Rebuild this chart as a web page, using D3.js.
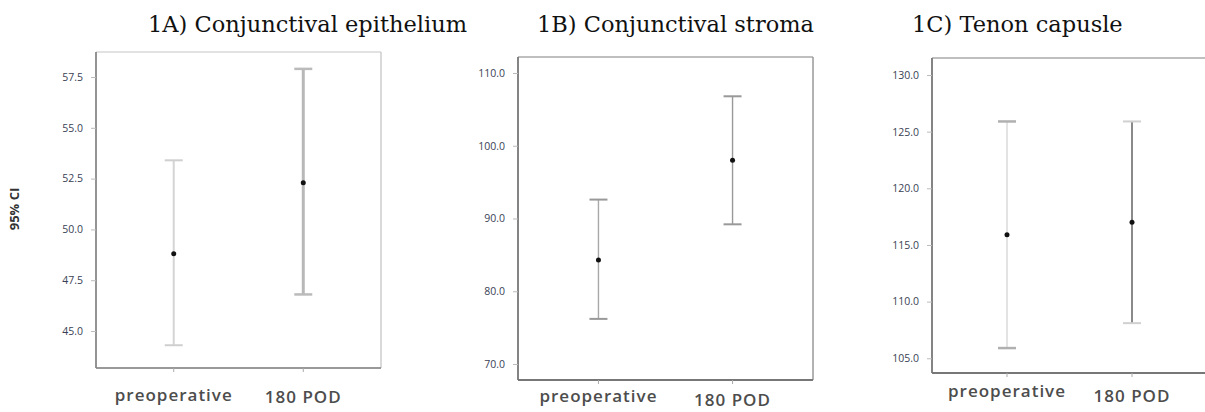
<!DOCTYPE html>
<html>
<head>
<meta charset="utf-8">
<script src="https://cdn.jsdelivr.net/npm/d3@7"></script>
<style>
  body { margin: 0; background: #fff; }
  svg { display: block; }
</style>
</head>
<body>
<div id="chart"></div>
<script>
// groups on the x axis
var groups = ["preoperative", "180 POD"];
var titles = ["1A) Conjunctival epithelium", "1B) Conjunctival stroma", "1C) Tenon capusle"];

// 95% CI values
var epitheliumLower = [44.3, 46.8];
var epitheliumMean  = [48.8, 52.3];
var epitheliumUpper = [53.4, 57.9];

var stromaLower = [76.2, 89.2];
var stromaMean  = [84.3, 98.0];
var stromaUpper = [92.6, 106.8];

var tenonLower = [105.9, 108.1];
var tenonMean  = [115.9, 117.0];
var tenonUpper = [125.9, 125.9];

// tick labels
var epitheliumTicks = [45.0, 47.5, 50.0, 52.5, 55.0, 57.5];
var stromaTicks = [70.0, 80.0, 90.0, 100.0, 110.0];
var tenonTicks = [105.0, 110.0, 115.0, 120.0, 125.0, 130.0];

var W = 1205, H = 412;

var svg = d3.select("#chart")
    .append("svg")
    .attr("width", W)
    .attr("height", H);

// layout + look of each panel
var panels = [
  {title: titles[0], titleX: 148, left: 96, right: 381, top: 52, bottom: 368, domain: [43.18, 58.73],
   ticks: epitheliumTicks, lower: epitheliumLower, mean: epitheliumMean, upper: epitheliumUpper,
   frame: {left: "#888", bottom: "#999", top: "#d8d8d8", right: "#ccc"},
   whisker: [{c: "#d4d4d4", w: 2, cap: "#cfcfcf", cw: 2}, {c: "#b8b8b8", w: 3, cap: "#bbb", cw: 2.5}],
   labelY: [396, 398]},
  {title: titles[1], titleX: 537, left: 518, right: 813, top: 57, bottom: 380, domain: [67.8, 112.2],
   ticks: stromaTicks, lower: stromaLower, mean: stromaMean, upper: stromaUpper,
   frame: {left: "#777", bottom: "#777", top: "#aaa", right: "#999"},
   whisker: [{c: "#a8a8a8", w: 1.4, cap: "#999", cw: 2}, {c: "#999", w: 1.4, cap: "#999", cw: 2}],
   labelY: [397, 401]},
  {title: titles[2], titleX: 912, left: 932, right: 1207, top: 58, bottom: 373, domain: [103.7, 131.5],
   ticks: tenonTicks, lower: tenonLower, mean: tenonMean, upper: tenonUpper,
   frame: {left: "#777", bottom: "#777", top: "#aaa", right: "#aaa"},
   whisker: [{c: "#d0d0d0", w: 1.2, cap: "#b0b0b0", cw: 2.5}, {c: "#8a8a8a", w: 2, cap: "#d0d0d0", cw: 2}],
   labelY: [392, 397]}
];

panels.forEach(function (p) {
  var g = svg.append("g");

  var x = d3.scalePoint()
      .domain(groups)
      .range([p.left, p.right])
      .padding(0.6);

  var y = d3.scaleLinear()
      .domain(p.domain)
      .range([p.bottom, p.top]);

  // frame
  g.append("line").attr("x1", p.left).attr("x2", p.right).attr("y1", p.top).attr("y2", p.top)
      .attr("stroke", p.frame.top).attr("stroke-width", 1.5);
  g.append("line").attr("x1", p.right).attr("x2", p.right).attr("y1", p.top).attr("y2", p.bottom)
      .attr("stroke", p.frame.right).attr("stroke-width", 1.5);
  g.append("line").attr("x1", p.left).attr("x2", p.right).attr("y1", p.bottom).attr("y2", p.bottom)
      .attr("stroke", p.frame.bottom).attr("stroke-width", 1.8);
  g.append("line").attr("x1", p.left).attr("x2", p.left).attr("y1", p.top).attr("y2", p.bottom)
      .attr("stroke", p.frame.left).attr("stroke-width", 1.8);

  // y axis
  var yAxis = g.append("g")
      .attr("transform", "translate(" + p.left + ",0)")
      .call(d3.axisLeft(y).tickValues(p.ticks).tickFormat(d3.format(".1f")).tickSize(5).tickPadding(8));
  yAxis.select(".domain").remove();
  yAxis.selectAll(".tick line").attr("stroke", "#bbb");
  yAxis.selectAll(".tick text")
      .attr("font-family", "Open Sans")
      .attr("font-size", "10.5px")
      .attr("fill", "#3a3f55");

  // x axis small ticks
  g.selectAll(".xtick")
      .data(groups)
      .enter()
      .append("line")
      .attr("x1", function (d) { return x(d); })
      .attr("x2", function (d) { return x(d); })
      .attr("y1", p.bottom)
      .attr("y2", p.bottom + 4)
      .attr("stroke", "#aaa");

  // x labels
  g.selectAll(".xlabel")
      .data(groups)
      .enter()
      .append("text")
      .attr("x", function (d) { return x(d); })
      .attr("y", function (d, i) { return p.labelY[i]; })
      .attr("text-anchor", "middle")
      .attr("dominant-baseline", "middle")
      .attr("font-family", "Open Sans")
      .attr("font-weight", "600")
      .attr("font-size", "17px")
      .attr("letter-spacing", "1px")
      .attr("fill", "#4d4d4d")
      .text(function (d) { return d; });

  // whiskers
  var capHalf = 9;
  groups.forEach(function (grp, i) {
    var s = p.whisker[i];
    g.append("line")
        .attr("x1", x(grp)).attr("x2", x(grp))
        .attr("y1", y(p.lower[i])).attr("y2", y(p.upper[i]))
        .attr("stroke", s.c).attr("stroke-width", s.w);
    [p.lower[i], p.upper[i]].forEach(function (v) {
      g.append("line")
          .attr("x1", x(grp) - capHalf).attr("x2", x(grp) + capHalf)
          .attr("y1", y(v)).attr("y2", y(v))
          .attr("stroke", s.cap).attr("stroke-width", s.cw);
    });
    g.append("circle")
        .attr("cx", x(grp))
        .attr("cy", y(p.mean[i]))
        .attr("r", 2.5)
        .attr("fill", "#111");
  });

  // title
  svg.append("text")
      .attr("x", p.titleX)
      .attr("y", 32)
      .attr("font-family", "DejaVu Serif")
      .attr("font-size", "22.5px")
      .attr("fill", "#111")
      .text(p.title);
});

// y axis title of first panel
svg.append("text")
    .attr("transform", "translate(16,209) rotate(-90)")
    .attr("text-anchor", "middle")
    .attr("dominant-baseline", "middle")
    .attr("font-family", "Open Sans")
    .attr("font-weight", "bold")
    .attr("font-size", "13px")
    .attr("fill", "#333")
    .text("95% CI");
</script>
</body>
</html>
